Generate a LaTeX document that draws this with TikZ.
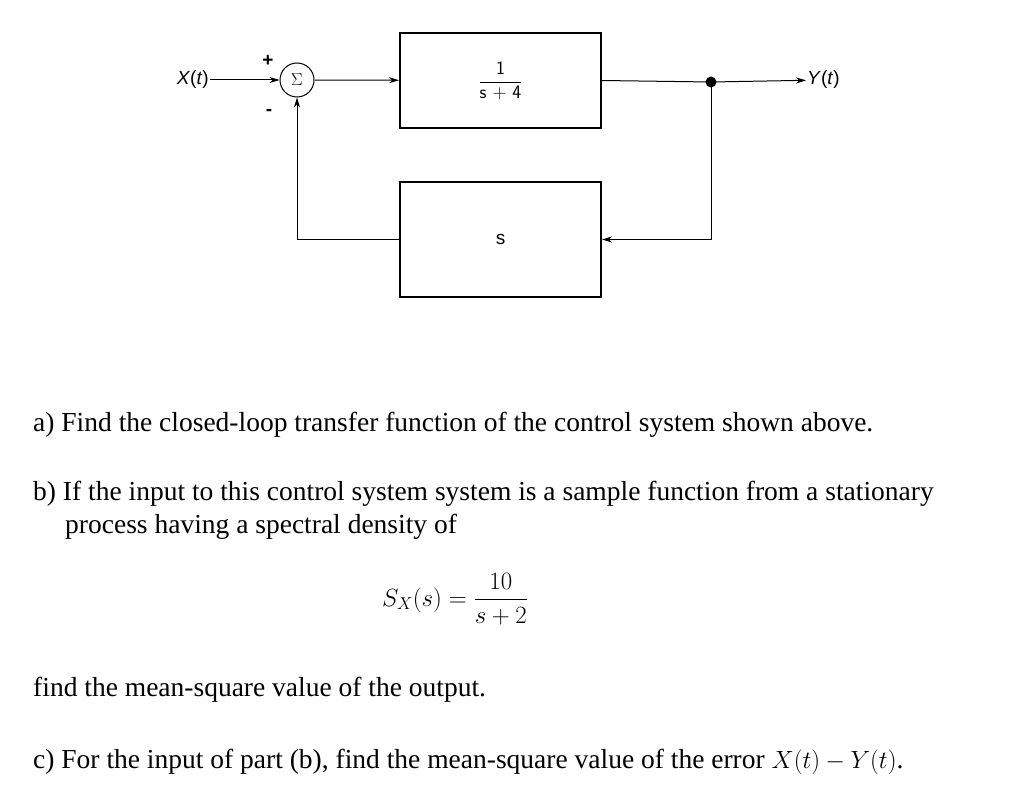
\documentclass[tikz,border=0pt]{standalone}
\usepackage{amsmath}
\usepackage{fontspec}
\setmainfont{Liberation Serif}
\newfontfamily\lbl{Liberation Sans}
\usetikzlibrary{arrows.meta}
\begin{document}
\begin{tikzpicture}[x=1pt,y=-1pt,
  blk/.style={draw,line width=2pt,minimum width=201pt,inner sep=0pt},
  ar/.style={-{Stealth[length=10pt,width=6pt]},line width=1pt},
  ln/.style={line width=1pt},
  dl/.style={font=\lbl\fontsize{19}{22}\selectfont},
  tx/.style={anchor=west,inner sep=0pt,font=\fontsize{27.5}{32}\selectfont}]
\useasboundingbox (0,0) rectangle (1024,802);
\node[dl,anchor=east,inner sep=1pt] (x) at (210,80) {\textit{X}(\textit{t})};
\node[draw,circle,line width=1pt,minimum size=34pt,inner sep=0pt,font=\fontsize{18}{20}\selectfont] (sum) at (297,80) {$\Sigma$};
\node[dl,font=\lbl\bfseries\fontsize{19}{22}\selectfont] at (268,61) {+};
\node[dl,font=\lbl\bfseries\fontsize{19}{22}\selectfont] at (269,112) {\textbf{-}};
\node[blk,minimum height=95pt] (b1) at (500.5,80.5) {\lbl\fontsize{19}{22}\selectfont$\dfrac{\textsf{1}}{\textsf{s\ +\ 4}}$};
\node[blk,minimum height=115pt] (b2) at (500.5,239.5) {\lbl\fontsize{19}{22}\selectfont s};
\fill (711,82) circle (5.5pt) coordinate (d);
\node[dl,anchor=west,inner sep=1pt] (y) at (806,80) {\textit{Y}(\textit{t})};
\draw[ar] (x) -- (sum);
\draw[ar] (sum) -- (b1);
\draw[ln] (b1.east) -- (d);
\draw[ar] (d) -- (y);
\draw[ar] (d) |- (b2.east);
\draw[ar] (b2.west) -| (sum.south);
\node[tx] at (33,425) {a) Find the closed-loop transfer function of the control system shown above.};
\node[tx,text width=949pt,align=justify] at (33,494) {b) If the input to this control system system is a sample function from a stationary};
\node[tx] at (65,527) {process having a spectral density of};
\node[inner sep=0pt,font=\fontsize{26}{30}\selectfont] at (455,599) {$S_X(s)=\dfrac{10}{s+2}$};
\node[tx] at (33,690) {find the mean-square value of the output.};
\node[tx] at (33,762) {c) For the input of part (b), find the mean-square value of the error $X(t)-Y(t)$.};
\end{tikzpicture}
\end{document}
